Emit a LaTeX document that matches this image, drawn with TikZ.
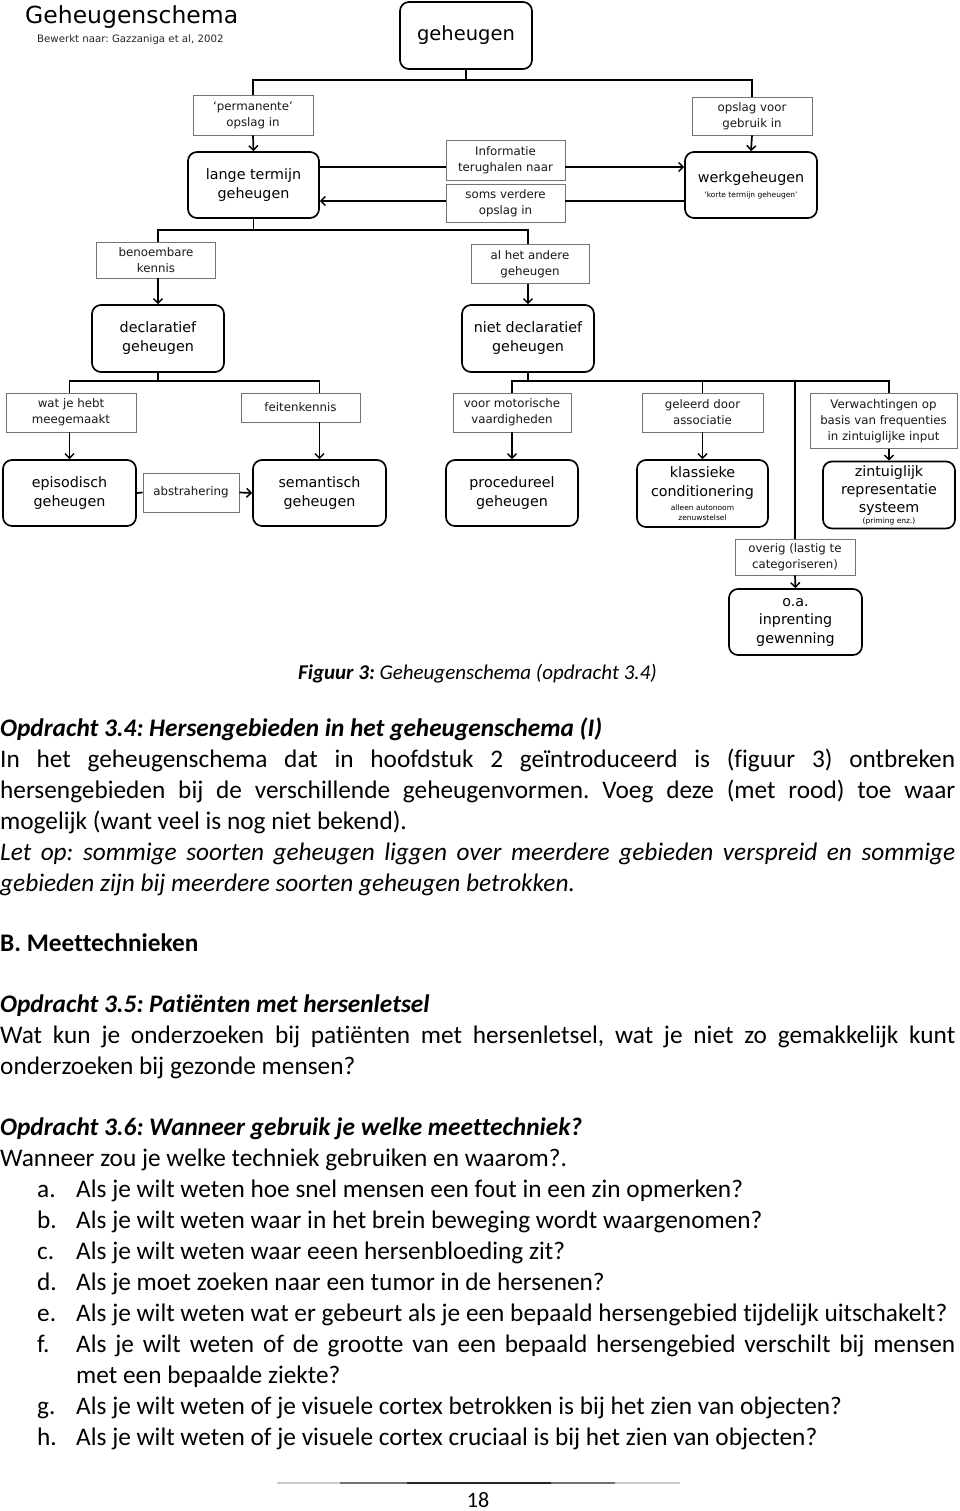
\documentclass[tikz,border=0pt]{standalone}
\usepackage{fontspec}
\setmainfont{Carlito}[Ligatures=NoCommon]
\newfontfamily\dg{DejaVu Sans}
\usetikzlibrary{arrows.meta}
\frenchspacing
\tikzset{
  sz/.style 2 args={minimum width=#1pt, minimum height=#2pt},
  rbox/.style={draw=black, line width=1.7pt, rounded corners=9pt, fill=white, align=center, inner sep=0pt, font=\dg\fontsize{14.3}{19}\selectfont},
  lbox/.style={draw=black!55, line width=0.9pt, fill=white, align=center, inner sep=0pt, text=black!90, font=\dg\fontsize{11.8}{16}\selectfont},
  conn/.style={line width=1.7pt, black},
  arr/.style={conn, -{Straight Barb[length=4.5pt,width=9pt,line width=1.5pt]}},
  body/.style={inner sep=0pt, anchor=west, font=\fontsize{25.3}{30}\selectfont, text height=18pt, text depth=6pt},
}
\newcommand{\jline}[1]{\makebox[955pt][s]{#1}}
\newcommand{\fline}[1]{\makebox[879pt][s]{#1}}
\begin{document}
\begin{tikzpicture}[x=1pt,y=-1pt]
\useasboundingbox (0,0) rectangle (960,1511);
% title
\node[font=\dg\fontsize{23.5}{28}\selectfont, anchor=west, inner sep=0pt] (title) at (25,17) {Geheugenschema};
\node[font=\dg\fontsize{10.2}{12}\selectfont, anchor=west, inner sep=0pt, text=black!85] (sub) at (37,40) {Bewerkt naar: Gazzaniga et al, 2002};
% nodes
\node[rbox, sz={132}{67}, font=\dg\fontsize{19.5}{22}\selectfont] (geh) at (466,35.5) {geheugen};
\node[lbox, sz={120}{40}] (perm) at (253,115) {‘permanente’\\opslag in};
\node[lbox, sz={120}{38}] (opsl) at (752,116) {opslag voor\\gebruik in};
\node[rbox, sz={131}{66}] (lange) at (253.5,185) {lange termijn\\geheugen};
\node[rbox, sz={132}{66}] (werk) at (751,185) {werkgeheugen\\[-4pt]{\dg\fontsize{7.5}{9}\selectfont ‘korte termijn geheugen’}};
\node[lbox, sz={119}{40}] (info) at (505.5,160) {Informatie\\terughalen naar};
\node[lbox, sz={119}{38}] (soms) at (505.5,203) {soms verdere\\opslag in};
\node[lbox, sz={119}{36}] (benoem) at (156,260) {benoembare\\kennis};
\node[lbox, sz={118}{39}] (alhet) at (530,264) {al het andere\\geheugen};
\node[rbox, sz={132}{67}] (decl) at (158,338.5) {declaratief\\geheugen};
\node[rbox, sz={132}{67}] (nietdecl) at (528,338.5) {niet declaratief\\geheugen};
\node[lbox, sz={130}{39}] (watje) at (71,412.5) {wat je hebt\\meegemaakt};
\node[lbox, sz={119}{29}] (feiten) at (300.5,407.5) {feitenkennis};
\node[rbox, sz={133}{66}] (epis) at (69.5,493) {episodisch\\geheugen};
\node[lbox, sz={96}{39}] (abstr) at (191,492.5) {abstrahering};
\node[rbox, sz={133}{66}] (sem) at (319.5,493) {semantisch\\geheugen};
\node[lbox, sz={118}{39}] (motor) at (512,412.5) {voor motorische\\vaardigheden};
\node[lbox, sz={121}{39}] (assoc) at (702.5,412.5) {geleerd door\\associatie};
\node[lbox, sz={147}{55}] (verw) at (883.5,421) {Verwachtingen op\\basis van frequenties\\in zintuiglijke input};
\node[rbox, sz={132}{66}] (proc) at (512,493) {procedureel\\geheugen};
\node[rbox, sz={131}{67}] (klass) at (702.5,493.5) {klassieke\\conditionering\\[-5pt]{\dg\fontsize{7.5}{10}\selectfont alleen autonoom}\\[-9pt]{\dg\fontsize{7.5}{10}\selectfont zenuwstelsel}};
\node[rbox, sz={132}{67}, font=\dg\fontsize{14.3}{18}\selectfont] (zint) at (889,495) {zintuiglijk\\representatie\\systeem\\[-7pt]{\dg\fontsize{7.5}{10}\selectfont (priming enz.)}};
\node[lbox, sz={120}{36}] (overig) at (795,557) {overig (lastig te\\categoriseren)};
\node[rbox, sz={133}{66}, font=\dg\fontsize{14.3}{18.5}\selectfont] (oa) at (795.5,622) {o.a.\\inprenting\\gewenning};
% rails
\coordinate (r1) at (0,167);
\coordinate (r2) at (0,201);
% connectors
\draw[conn] (geh.south) -- ++(0,10) coordinate (j1);
\draw[conn] (perm.north) |- (j1) -| (opsl.north);
\draw[arr] (perm.south) -- (lange.north);
\draw[arr] (opsl.south) -- (werk.north);
\draw[conn] (lange.east |- r1) -- (info.west |- r1);
\draw[arr] (info.east |- r1) -- (werk.west |- r1);
\draw[conn] (werk.west |- r2) -- (soms.east |- r2);
\draw[arr] (soms.west |- r2) -- (lange.east |- r2);
\draw[conn] (lange.south) -- ++(0,11) coordinate (j2);
\draw[conn] (decl.north |- benoem.north) |- (j2) -| (nietdecl.north |- alhet.north);
\draw[arr] (decl.north |- benoem.south) -- (decl.north);
\draw[arr] (nietdecl.north |- alhet.south) -- (nietdecl.north);
\draw[conn] (decl.south) -- ++(0,8) coordinate (j3);
\draw[conn] (epis.north |- watje.north) |- (j3) -| (sem.north |- feiten.north);
\draw[arr] (epis.north |- watje.south) -- (epis.north);
\draw[arr] (sem.north |- feiten.south) -- (sem.north);
\draw[conn] (epis.east) -- (abstr.west);
\draw[arr] (abstr.east) -- (sem.west);
\draw[conn] (nietdecl.south) -- ++(0,8) coordinate (j4);
\draw[conn] (proc.north |- motor.north) |- (j4) -| (zint.north |- verw.north);
\draw[conn] (klass.north |- j4) -- (klass.north |- assoc.north);
\draw[conn] (overig.north |- j4) -- (overig.north);
\draw[arr] (motor.south) -- (proc.north);
\draw[arr] (klass.north |- assoc.south) -- (klass.north);
\draw[arr] (zint.north |- verw.south) -- (zint.north);
\draw[arr] (overig.south) -- (oa.north);
% body text
\node[body, font=\fontsize{21}{25}\selectfont] (cap) at (298,673) {\textbf{\textit{Figuur 3:}} \textit{Geheugenschema (opdracht 3.4)}};
\node[body] (h34) at (0,730) {\textbf{\textit{Opdracht 3.4: Hersengebieden in het geheugenschema (I)}}};
\node[body] (p1) at (0,761) {\jline{In het geheugenschema dat in hoofdstuk 2 geïntroduceerd is (figuur 3) ontbreken}};
\node[body] (p2) at (0,792) {\jline{hersengebieden bij de verschillende geheugenvormen. Voeg deze (met rood) toe waar}};
\node[body] (p3) at (0,823) {mogelijk (want veel is nog niet bekend).};
\node[body] (p4) at (0,854) {\jline{\itshape Let op: sommige soorten geheugen liggen over meerdere gebieden verspreid en sommige}};
\node[body] (p5) at (0,885) {\textit{gebieden zijn bij meerdere soorten geheugen betrokken.}};
\node[body] (hB) at (0,945) {\textbf{B. Meettechnieken}};
\node[body] (h35) at (0,1006) {\textbf{\textit{Opdracht 3.5: Patiënten met hersenletsel}}};
\node[body] (q1) at (0,1037) {\jline{Wat kun je onderzoeken bij patiënten met hersenletsel, wat je niet zo gemakkelijk kunt}};
\node[body] (q2) at (0,1068) {onderzoeken bij gezonde mensen?};
\node[body] (h36) at (0,1129) {\textbf{\textit{Opdracht 3.6: Wanneer gebruik je welke meettechniek?}}};
\node[body] (q3) at (0,1160) {Wanneer zou je welke techniek gebruiken en waarom?.};
\node[body] (la) at (37,1191) {a.};
\node[body] (ta) at (76,1191) {Als je wilt weten hoe snel mensen een fout in een zin opmerken?};
\node[body] (lb) at (37,1222) {b.};
\node[body] (tb) at (76,1222) {Als je wilt weten waar in het brein beweging wordt waargenomen?};
\node[body] (lc) at (37,1253) {c.};
\node[body] (tc) at (76,1253) {Als je wilt weten waar eeen hersenbloeding zit?};
\node[body] (ld) at (37,1284) {d.};
\node[body] (td) at (76,1284) {Als je moet zoeken naar een tumor in de hersenen?};
\node[body] (le) at (37,1315) {e.};
\node[body] (te) at (76,1315) {Als je wilt weten wat er gebeurt als je een bepaald hersengebied tijdelijk uitschakelt?};
\node[body] (lf) at (37,1346) {f.};
\node[body] (tf) at (76,1346) {\fline{Als je wilt weten of de grootte van een bepaald hersengebied verschilt bij mensen}};
\node[body] (tf2) at (76,1377) {met een bepaalde ziekte?};
\node[body] (lg) at (37,1408) {g.};
\node[body] (tg) at (76,1408) {Als je wilt weten of je visuele cortex betrokken is bij het zien van objecten?};
\node[body] (lh) at (37,1439) {h.};
\node[body] (th) at (76,1439) {Als je wilt weten of je visuele cortex cruciaal is bij het zien van objecten?};
% footer
\draw[black!20, line width=1.2pt] (277,1483) -- (680,1483);
\draw[black!55, line width=1.2pt] (340,1483) -- (615,1483);
\draw[black!85, line width=1.5pt] (407,1483) -- (551,1483);
\node[body, anchor=center, font=\fontsize{22}{26}\selectfont] (pg) at (478,1501) {18};
\end{tikzpicture}
\end{document}
